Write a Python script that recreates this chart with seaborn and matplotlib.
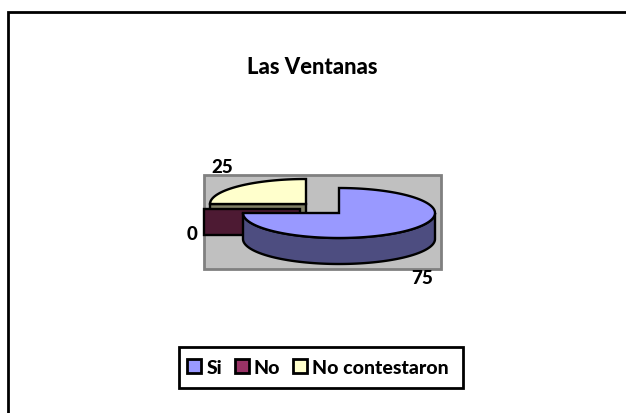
import numpy as np
import matplotlib
matplotlib.use("Agg")
import matplotlib.pyplot as plt
from matplotlib.patches import Patch, Polygon
import seaborn as sns

title = "Las Ventanas"
categories = ["Si", "No", "No contestaron"]
values = [75, 0, 25]
top_colors = ["#9999FF", "#993366", "#FFFFCC"]
side_colors = ["#4D4D80", "#4D1A33", "#808066"]

sns.set_theme(style="white")
plt.rcParams['font.family'] = ['Lato', 'DejaVu Sans']
plt.rcParams['font.weight'] = 'black'

# pie geometry in pixels, the axes below are 1:1 with the image
centre = (339, 214)
rx, ry, depth = 96, 25, 26
explode = {"Si": (0, 0), "No": (-39.5, -4.5), "No contestaron": (-33, -9)}


def ellipse(cx, cy, t1, t2):
    t = np.radians(np.linspace(t1, t2, 120))
    return np.column_stack([cx + rx * np.sin(t), cy - ry * np.cos(t)])


def draw_slice(ax, name, t1, t2, top, side):
    cx = centre[0] + explode[name][0]
    cy = centre[1] + explode[name][1]
    apex = np.array([[cx, cy]])
    drop = np.array([0, depth])
    style = dict(edgecolor="black", linewidth=1.7, joinstyle="miter")

    # radial walls that face the viewer
    for t, visible in ((t1, np.sin(np.radians(t1)) < -1e-6), (t2, np.sin(np.radians(t2)) > 1e-6)):
        if visible:
            rim = ellipse(cx, cy, t, t)[:1]
            wall = np.vstack([apex, rim, rim + drop, apex + drop])
            ax.add_patch(Polygon(wall, facecolor=side, **style))

    # outer wall, front half of the rim only
    a, b = max(t1, 90), min(t2, 270)
    if b > a:
        arc = ellipse(cx, cy, a, b)
        wall = np.vstack([arc, (arc + drop)[::-1]])
        ax.add_patch(Polygon(wall, facecolor=side, **style))

    if t2 > t1:
        ax.add_patch(Polygon(np.vstack([apex, ellipse(cx, cy, t1, t2)]), facecolor=top, **style))


fig = plt.figure(figsize=(6.26, 4.14), dpi=100)
ax = fig.add_axes([0, 0, 1, 1])
ax.set_xlim(0, 626)
ax.set_ylim(414, 0)
ax.axis("off")

# outer chart frame, only top and left edges are inside the image
ax.plot([626, 8, 8], [13, 13, 414], color="black", linewidth=2, solid_joinstyle="miter")
ax.fill([204, 441, 441, 204], [176, 176, 270, 270], facecolor="#C0C0C0", edgecolor="#808080", linewidth=2)

# slices clockwise from 12 o'clock, back ones first
angles = np.cumsum([0] + values) / sum(values) * 360
for i in [2, 1, 0]:
    draw_slice(ax, categories[i], angles[i], angles[i + 1], top_colors[i], side_colors[i])

ax.text(312, 67, title, ha="center", va="center", fontsize=15.8, color="black")
for val, x, y in zip(values, [422, 192, 222], [279, 235, 168]):
    ax.text(x, y, str(val), ha="center", va="center", fontsize=13.5, color="black")

# legend frame is drawn on its own so it can be wider than the entries
ax.fill([179, 463, 463, 179], [348, 348, 389, 389], facecolor="white", edgecolor="black", linewidth=2)
handles = [Patch(facecolor=c, edgecolor="black", linewidth=2) for c in top_colors]
leg = ax.legend(handles, categories, loc="center left", bbox_to_anchor=(187, 368.5),
                bbox_transform=ax.transData, ncols=3, fontsize=14, frameon=False, labelcolor="black",
                handlelength=0.72, handleheight=0.72, handletextpad=0.27, columnspacing=0.65,
                borderpad=0, borderaxespad=0)

fig.savefig("out.png", dpi=100)
